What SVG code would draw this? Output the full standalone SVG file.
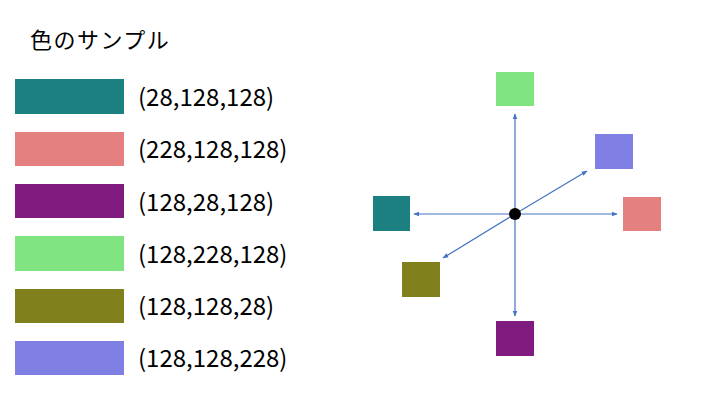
<svg xmlns="http://www.w3.org/2000/svg" width="720" height="405" viewBox="0 0 720 405">
<style>
text{font-family:"Noto Sans CJK JP","Liberation Sans",sans-serif;fill:#000}
.lbl{font-size:24px}
.ttl{font-size:22px;letter-spacing:1.5px}
.c{stroke:#4472C4;stroke-width:1.2;fill:none;marker-end:url(#ah)}
</style>
<defs>
<marker id="ah" viewBox="0 0 10 10" refX="9" refY="5" markerWidth="6" markerHeight="6" orient="auto" markerUnits="userSpaceOnUse">
<path d="M0,1 L10,5 L0,9 Z" fill="#4472C4"/>
</marker>
</defs>
<rect width="720" height="405" fill="#fff"/>
<text class="ttl" x="30" y="48">色のサンプル</text>
<g id="legend1"><rect x="15" y="79" width="109" height="35" fill="#1C8080"/><text class="lbl" x="138" y="106">(28,128,128)</text></g>
<g id="legend2"><rect x="15" y="132" width="109" height="34" fill="#E48080"/><text class="lbl" x="138" y="158">(228,128,128)</text></g>
<g id="legend3"><rect x="15" y="184" width="109" height="34" fill="#801C80"/><text class="lbl" x="138" y="211">(128,28,128)</text></g>
<g id="legend4"><rect x="15" y="236" width="109" height="35" fill="#80E480"/><text class="lbl" x="138" y="263">(128,228,128)</text></g>
<g id="legend5"><rect x="15" y="289" width="109" height="34" fill="#80801C"/><text class="lbl" x="138" y="315">(128,128,28)</text></g>
<g id="legend6"><rect x="15" y="341" width="109" height="34" fill="#8080E4"/><text class="lbl" x="138" y="367">(128,128,228)</text></g>
<g id="connectors">
<line class="c" x1="515" y1="214" x2="515" y2="114"/>
<line class="c" x1="515" y1="214" x2="515" y2="316"/>
<line class="c" x1="515" y1="214" x2="414" y2="214"/>
<line class="c" x1="515" y1="214" x2="617" y2="214"/>
<line class="c" x1="515" y1="214" x2="587" y2="171"/>
<line class="c" x1="515" y1="214" x2="443" y2="258"/>
</g>
<g id="center"><circle cx="515" cy="214" r="6" fill="#000"/></g>
<g id="green"><rect x="496" y="72" width="38" height="34" fill="#80E480"/></g>
<g id="blue"><rect x="595" y="134" width="38" height="35" fill="#8080E4"/></g>
<g id="teal"><rect x="373" y="196" width="37" height="35" fill="#1C8080"/></g>
<g id="red"><rect x="623" y="197" width="38" height="34" fill="#E48080"/></g>
<g id="olive"><rect x="402" y="262" width="38" height="35" fill="#80801C"/></g>
<g id="purple"><rect x="496" y="321" width="38" height="35" fill="#801C80"/></g>
</svg>
